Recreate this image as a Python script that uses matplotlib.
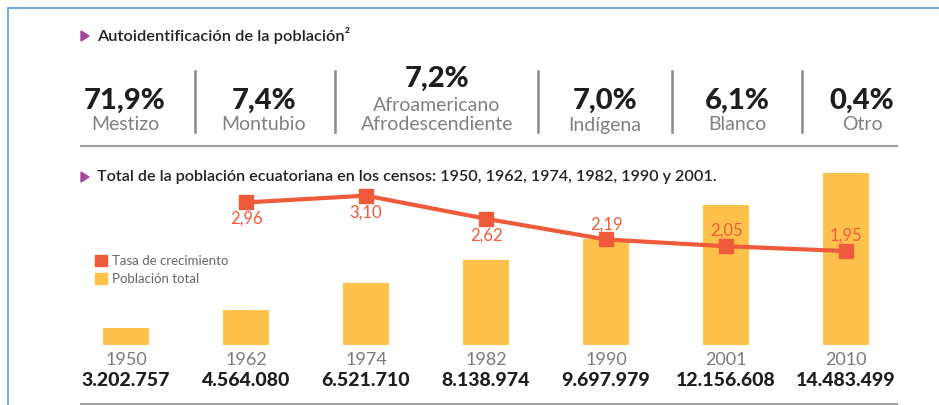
import matplotlib.pyplot as plt
from matplotlib.lines import Line2D
from matplotlib.patches import Patch, Polygon
from matplotlib.transforms import blended_transform_factory

plt.rcParams['font.family'] = ['Lato', 'DejaVu Sans']

# autoidentificación
grupos = ["Mestizo", "Montubio", "Afroamericano\nAfrodescendiente", "Indígena", "Blanco", "Otro"]
porcentajes = ["71,9%", "7,4%", "7,2%", "7,0%", "6,1%", "0,4%"]

# censos
anios = ["1950", "1962", "1974", "1982", "1990", "2001", "2010"]
poblacion = [3202757, 4564080, 6521710, 8138974, 9697979, 12156608, 14483499]
tasa = [None, 2.96, 3.10, 2.62, 2.19, 2.05, 1.95]

W, H = 939, 405
fig = plt.figure(figsize=(W / 100, H / 100), dpi=100)


def fx(x):
    return x / W


def fy(y):
    return 1 - y / H


def hline(x0, x1, y, color, lw):
    fig.add_artist(Line2D([fx(x0), fx(x1)], [fy(y), fy(y)], color=color, lw=lw))


def vline(x, y0, y1, color, lw):
    fig.add_artist(Line2D([fx(x), fx(x)], [fy(y0), fy(y1)], color=color, lw=lw))


def triangulo(x, y):
    fig.add_artist(Polygon([[fx(x), fy(y - 5)], [fx(x), fy(y + 5)], [fx(x + 8), fy(y)]],
                           closed=True, color="#A3489C", transform=fig.transFigure))


# marco azul
hline(8, 939, 8, "#7BAAE0", 1.5)
vline(8, 8, 405, "#7BAAE0", 1.5)

# titulo 1
triangulo(81, 36)
fig.text(fx(97), fy(36), "Autoidentificación de la población²", fontsize=11.8, fontweight="semibold",
         color="#222222", va="center", ha="left")

centros = [125, 264, 437, 605, 737, 862]
for cx, pct, grp in zip(centros, porcentajes, grupos):
    if "\n" in grp:
        fig.text(fx(cx), fy(79), pct, fontsize=21, fontweight="black", color="#1e1e1e", ha="center", va="center")
        fig.text(fx(cx), fy(115), grp, fontsize=14, color="#808080", ha="center", va="center",
                 linespacing=1.1)
    else:
        fig.text(fx(cx), fy(101), pct, fontsize=21, fontweight="black", color="#1e1e1e", ha="center", va="center")
        fig.text(fx(cx), fy(125), grp, fontsize=14, color="#808080", ha="center", va="center")

for dx in [195, 335, 538, 672, 802]:
    vline(dx, 71, 132, "#8a8a8a", 1.8)
hline(81, 897, 146, "#a0a0a0", 1.5)

# titulo 2
triangulo(81, 177)
fig.text(fx(97), fy(177), "Total de la población ecuatoriana en los censos: 1950, 1962, 1974, 1982, 1990 y 2001.",
         fontsize=11.6, fontweight="semibold", color="#222222", va="center", ha="left")

# grafico
ax = fig.add_axes([fx(66), fy(345), fx(906) - fx(66), (345 - 160) / H])
x = list(range(len(anios)))
ax.bar(x, poblacion, width=0.385, color="#FDC14C", zorder=1)
ax.set_xlim(-0.5, len(anios) - 0.5)
ax.set_ylim(2.0e6, 15.4e6)
ax.axis("off")

ax2 = ax.twinx()
xs = [i for i, t in zip(x, tasa) if t is not None]
ts = [t for t in tasa if t is not None]
ax2.plot(xs, ts, color="#EF5A3B", lw=3, marker="s", markersize=9.5, zorder=3)
ax2.set_ylim(0, 3.84)
ax2.set_xlim(-0.5, len(anios) - 0.5)
ax2.axis("off")
for i, (xi, t) in enumerate(zip(xs, ts)):
    off = -12 if i < 3 else 11
    ax2.annotate(f"{t:.2f}".replace(".", ","), (xi, t), xytext=(0, off), textcoords="offset points",
                 ha="center", va="center", fontsize=12, color="#EF5A3B")

tr = blended_transform_factory(ax.transData, fig.transFigure)
for xi, a, p in zip(x, anios, poblacion):
    ax.text(xi, fy(360), a, transform=tr, ha="center", va="center", fontsize=13, color="#7a7a7a")
    ax.text(xi, fy(381), f"{p:,}".replace(",", "."), transform=tr, ha="center", va="center",
            fontsize=14, fontweight="black", color="#1e1e1e")

ax.legend(handles=[Patch(color="#EF5A3B", label="Tasa de crecimiento"),
                   Patch(color="#FDC14C", label="Población total")],
          loc="upper left", bbox_to_anchor=(fx(95), fy(255)), bbox_transform=fig.transFigure,
          frameon=False, fontsize=9.5, handlelength=0.9, handleheight=0.9, handletextpad=0.4,
          borderpad=0, borderaxespad=0, labelspacing=0.45, labelcolor="#666666")

hline(81, 897, 404, "#a0a0a0", 1.5)

fig.savefig("out.png", dpi=100)
